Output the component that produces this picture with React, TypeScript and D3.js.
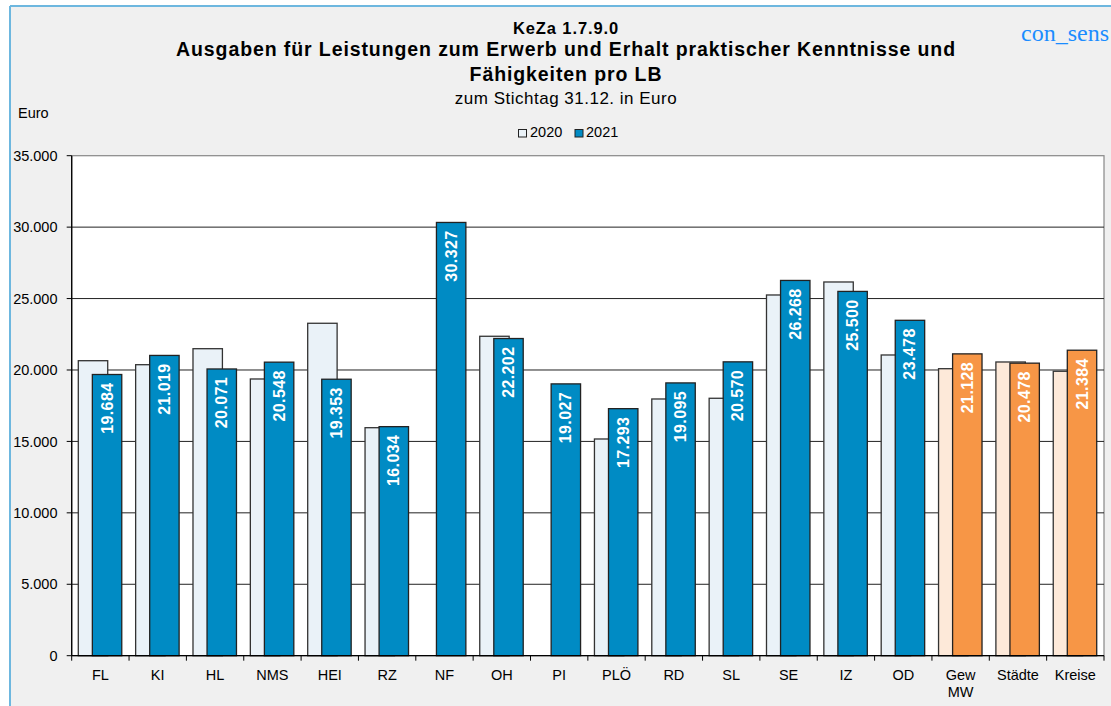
import React from "react";
import * as d3 from "d3";

const categories = ["FL", "KI", "HL", "NMS", "HEI", "RZ", "NF", "OH", "PI", "PLÖ", "RD", "SL", "SE", "IZ", "OD", "Gew MW", "Städte", "Kreise"];
const values2021 = [19684, 21019, 20071, 20548, 19353, 16034, 30327, 22202, 19027, 17293, 19095, 20570, 26268, 25500, 23478, 21128, 20478, 21384];
const values2020: (number | null)[] = [20650, 20370, 21490, 19370, 23270, 15960, null, 22360, null, 15170, 17970, 18020, 25250, 26160, 21050, 20090, 20560, 19910];
const summaryCategories = ["Gew MW", "Städte", "Kreise"];
const yTicks = [0, 5000, 10000, 15000, 20000, 25000, 30000, 35000];
const seriesNames = ["2020", "2021"];

const W = 1111;
const H = 706;
const FONT = "'Liberation Sans', Arial, sans-serif";

const fmt = (v: number) => d3.format(",")(v).replace(/,/g, ".");

export default function App() {
  const left = 71.7;
  const right = 1104;
  const top = 155.7;
  const bottom = 655.7;

  const x = d3.scaleBand<string>().domain(categories).range([left, right]).padding(0);
  const y = d3.scaleLinear().domain([0, 35000]).range([bottom, top]);
  const bw = x.bandwidth();
  const barW = bw * 0.513;
  const off2020 = bw * 0.115;
  const off2021 = bw * 0.36;

  const colors = (cat: string) => {
    const s = summaryCategories.includes(cat);
    return {
      c2020: s ? "#fde9d9" : "#eaf2f8",
      c2021: s ? "#f79646" : "#008bc4",
    };
  };

  return (
    <svg
      width={W}
      height={H}
      style={{ position: "fixed", left: 0, top: 0, background: "#ffffff" }}
      fontFamily={FONT}
    >
      <rect x={10} y={6} width={W - 10} height={H - 6} fill="#f0f0f0" />
      <line x1={10} y1={6} x2={W} y2={6} stroke="#6db7df" strokeWidth={2} />
      <line x1={10} y1={6} x2={10} y2={H} stroke="#6db7df" strokeWidth={2} />

      <text x={566} y={33.5} textAnchor="middle" fontSize={16.5} letterSpacing={0.9} fontWeight="bold" fill="#000">KeZa 1.7.9.0</text>
      <text x={566} y={56} textAnchor="middle" fontSize={19.5} letterSpacing={0.9} fontWeight="bold" fill="#000">
        Ausgaben für Leistungen zum Erwerb und Erhalt praktischer Kenntnisse und
      </text>
      <text x={566} y={80.5} textAnchor="middle" fontSize={19.5} letterSpacing={0.9} fontWeight="bold" fill="#000">
        Fähigkeiten pro LB
      </text>
      <text x={566} y={104} textAnchor="middle" fontSize={17} letterSpacing={0.5} fill="#000">zum Stichtag 31.12. in Euro</text>
      <text x={18} y={117.5} fontSize={14.5} fill="#000">Euro</text>
      <text x={1021} y={41} fontSize={24} fill="#1a8cff" fontFamily="'Liberation Serif', 'DejaVu Serif', serif">con_sens</text>

      {/* legend */}
      <rect x={518.5} y={129.5} width={8} height={7.5} fill="#eaf2f8" stroke="#222" strokeWidth={1} />
      <text x={530} y={137} fontSize={14.5} fill="#000">{seriesNames[0]}</text>
      <rect x={575} y={129.5} width={8} height={7.5} fill="#008bc4" stroke="#222" strokeWidth={1} />
      <text x={586} y={137} fontSize={14.5} fill="#000">{seriesNames[1]}</text>

      {/* plot area */}
      <rect x={left} y={top} width={right - left} height={bottom - top} fill="#ffffff" stroke="#888" strokeWidth={1.2} />
      {yTicks.map((t) => (
        <g key={t}>
          {t > 0 && t < 35000 && (
            <line x1={left} x2={right} y1={y(t)} y2={y(t)} stroke="#222" strokeWidth={1} />
          )}
          <line x1={left - 5} x2={left} y1={y(t)} y2={y(t)} stroke="#000" strokeWidth={1} />
          <text x={57.5} y={y(t) + 5.2} textAnchor="end" fontSize={14.5} fill="#000">{fmt(t)}</text>
        </g>
      ))}

      {categories.map((cat, i) => {
        const x0 = x(cat)!;
        const { c2020, c2021 } = colors(cat);
        const v20 = values2020[i];
        const v21 = values2021[i];
        const lines = cat === "Gew MW" ? ["Gew", "MW"] : [cat];
        return (
          <g key={cat}>
            {v20 != null && (
              <rect x={x0 + off2020} y={y(v20)} width={barW} height={bottom - y(v20)} fill={c2020} stroke="#333" strokeWidth={1.3} />
            )}
            <rect x={x0 + off2021} y={y(v21)} width={barW} height={bottom - y(v21)} fill={c2021} stroke="#222" strokeWidth={1.3} />
            <text
              transform={`translate(${x0 + off2021 + barW / 2},${y(v21) + 8}) rotate(-90)`}
              textAnchor="end"
              dominantBaseline="central"
              fontSize={16}
              letterSpacing={0.4}
              fontWeight="bold"
              fill="#ffffff"
            >
              {fmt(v21)}
            </text>
            {lines.map((l, k) => (
              <text key={k} x={x0 + bw / 2} y={679.5 + k * 17} textAnchor="middle" fontSize={14.5} fill="#000">{l}</text>
            ))}
          </g>
        );
      })}

      <line x1={left} x2={left} y1={top} y2={bottom} stroke="#000" strokeWidth={1.3} />
      <line x1={left} x2={right} y1={bottom} y2={bottom} stroke="#000" strokeWidth={1.3} />
      {[...categories.map((c) => x(c)!), right].map((bx, i) => (
        <line key={i} x1={bx} x2={bx} y1={bottom} y2={bottom + 5} stroke="#000" strokeWidth={1} />
      ))}
    </svg>
  );
}
